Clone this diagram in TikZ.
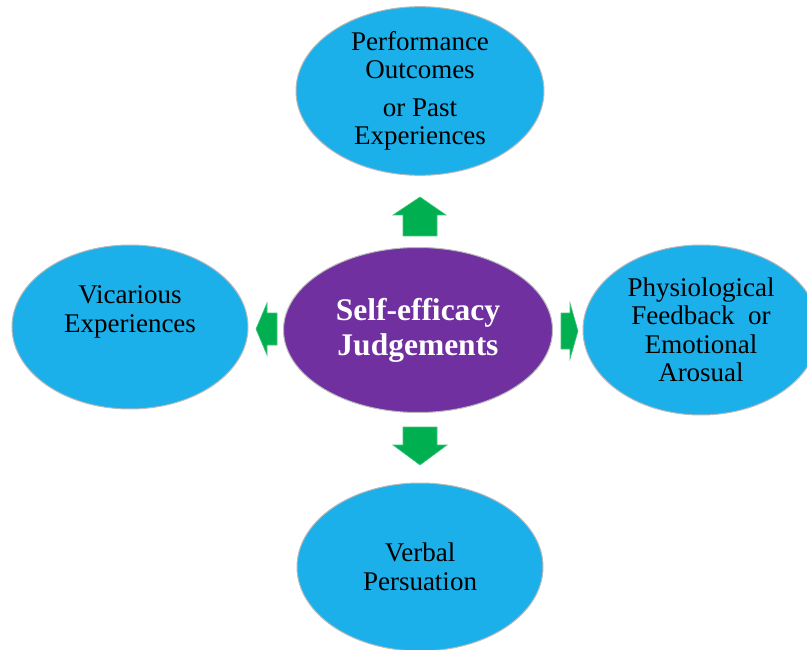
\documentclass[tikz,border=0pt]{standalone}
\usepackage{fontspec}
\setmainfont{Liberation Serif}
\usetikzlibrary{shapes.geometric}

\definecolor{bubbleblue}{RGB}{28,176,235}
\definecolor{corepurple}{RGB}{112,48,160}
\definecolor{arrowgreen}{RGB}{0,176,80}

\tikzset{
    bubble/.style={ellipse, fill=bubbleblue, draw=gray!55, line width=1pt,
        inner sep=0pt, align=center, font=\fontsize{27}{28.5}\selectfont},
    core/.style={ellipse, fill=corepurple, draw=gray!55, line width=1pt,
        inner sep=0pt, align=center, text=white,
        font=\bfseries\fontsize{31.5}{35}\selectfont},
    blockarrow/.style={fill=arrowgreen, draw=arrowgreen!75!white, line width=0.6pt}
}

\begin{document}
\begin{tikzpicture}[x=1pt, y=-1pt]
                        % Marco
                        \useasboundingbox (0,0) rectangle (807,650);

                        % Nodo central
                        \node[core, minimum width=269, minimum height=165] (judge) at (418,330) {Self-efficacy\\Judgements};

                        % Fuentes de autoeficacia
                        \node[bubble, minimum width=248, minimum height=168] (perf) at (420,91) {Performance\\Outcomes\\[9pt]or Past\\Experiences};
                        \node[bubble, minimum width=236, minimum height=164,
                              label={[align=center, yshift=15pt, font=\fontsize{27}{28.5}\selectfont]center:Vicarious\\Experiences}] (vic) at (130,327) {};
                        \node[bubble, minimum width=236, minimum height=170] (phys) at (701,330) {Physiological\\Feedback\ \ or\\Emotional\\Arosual};
                        \node[bubble, minimum width=246, minimum height=168] (verb) at (420,567) {Verbal\\Persuation};

                        % Flechas de bloque
                        % arriba
                        \draw[blockarrow] (403,236) -- (403,215) -- (393,215) -- (420,197) -- (446,215) -- (437,215) -- (437,236) -- cycle;
                        % abajo
                        \draw[blockarrow] (403,427) -- (437,427) -- (437,445) -- (447,445) -- (420,465) -- (393,445) -- (403,445) -- cycle;
                        % izquierda
                        \draw[blockarrow] (277,313) -- (267,313) -- (267,303) -- (256,329) -- (267,355) -- (267,345) -- (277,345) -- cycle;
                        % derecha
                        \draw[blockarrow] (561,313) -- (570,313) -- (570,303) -- (578,331) -- (570,359) -- (570,349) -- (561,349) -- cycle;
                    \end{tikzpicture}
\end{document}
